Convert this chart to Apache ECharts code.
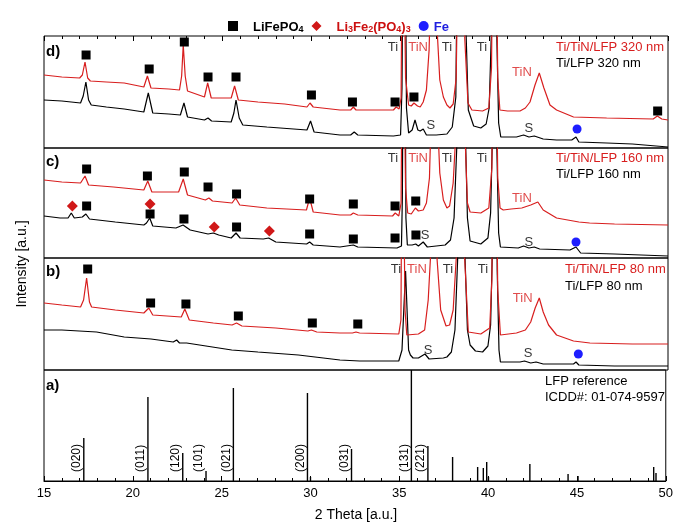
<!DOCTYPE html>
<html>
<head>
<meta charset="utf-8">
<script src="https://cdn.jsdelivr.net/npm/echarts@6/dist/echarts.min.js"></script>
<style>
  html, body { margin: 0; padding: 0; background: #fff; }
  #chart { width: 676px; height: 524px; }
</style>
</head>
<body>
<div id="chart"></div>
<script>
// 2 Theta [deg] vs intensity [a.u.], one array per curve

// d) 320 nm
const dRed = [[15.0,73],[16.0,71],[17.0,70],[17.15,73],[17.3,86],[17.45,70],[17.6,67],[18.5,66],[19.5,65],[20.6,61],[20.8,72],[21.0,60],[22.0,59],[22.6,58],[22.72,72],[22.81,103],[22.92,72],[23.05,57],[24.0,51],[24.18,65],[24.38,50],[25.5,50],[25.69,62],[25.9,48],[27.0,46],[28.5,44],[29.75,41],[29.92,45],[30.1,41],[31.6,38],[32.2,38],[32.35,41],[32.5,38],[34.6,38],[34.75,41],[34.92,39],[35.03,50],[35.12,300],[35.28,70],[35.45,43],[35.6,42],[35.75,45],[35.95,42],[36.1,41],[36.27,46],[36.45,58],[36.6,98],[36.83,260],[37.06,115],[37.2,68],[37.4,51],[37.6,43],[37.77,40],[37.95,44],[38.12,70],[38.38,400],[38.6,110],[38.78,45],[39.0,38],[39.6,37],[39.95,40],[40.1,80],[40.27,400],[40.45,70],[40.57,38],[41.0,37],[41.7,37],[42.0,40],[42.26,46],[42.54,63],[42.78,75],[43.04,60],[43.38,43],[43.75,38],[44.7,31],[46.56,30],[49.17,29],[49.4,32],[49.65,29],[50.0,28]];
const dBlack = [[15.0,48],[16.0,47],[17.05,45],[17.2,52],[17.35,66],[17.5,48],[17.65,43],[18.5,41],[19.5,39],[20.6,36],[20.85,55],[21.1,35],[22.0,34],[22.65,33],[22.85,45],[23.05,31],[24.0,28],[24.2,30],[24.4,27],[25.5,26],[25.65,35],[25.77,48],[25.95,30],[26.15,23],[27.5,21],[29.75,18],[29.95,27],[30.15,16],[31.6,13],[32.2,13],[32.4,16],[32.6,13],[34.6,12],[35.0,13],[35.08,60],[35.2,400],[35.33,40],[35.45,15],[35.65,18],[35.81,28],[35.97,18],[36.1,17],[36.27,19],[36.45,13],[37.0,13],[37.6,14],[37.9,21],[38.1,51],[38.35,500],[38.6,160],[38.8,38],[39.1,22],[39.5,20],[39.8,24],[39.97,40],[40.1,120],[40.25,500],[40.4,110],[40.5,25],[40.62,11],[41.5,11],[41.9,13],[42.2,11],[42.5,12],[43.0,9],[43.75,8],[44.6,8],[44.84,11],[45.0,6],[46.56,5],[48.0,4],[50.0,1]];

// c) 160 nm
const cRed = [[15.0,78],[16.0,76],[17.05,75],[17.3,82],[17.5,73],[18.9,71],[20.6,68],[20.82,77],[21.05,66],[22.55,66],[22.81,79],[23.05,63],[24.05,58],[24.25,60],[24.45,57],[25.55,55],[25.75,60],[25.98,53],[27.5,50],[29.72,48],[29.9,60],[30.1,46],[31.6,43],[32.2,43],[32.35,45],[32.6,43],[34.55,42],[34.7,45],[34.9,42],[35.03,55],[35.12,300],[35.28,70],[35.4,45],[35.6,44],[35.83,50],[36.0,47],[36.27,48],[36.45,55],[36.62,80],[36.8,200],[37.05,150],[37.2,85],[37.4,58],[37.6,50],[37.75,52],[37.95,75],[38.15,140],[38.38,400],[38.6,130],[38.75,55],[38.9,46],[39.5,45],[39.95,50],[40.12,90],[40.25,400],[40.45,80],[40.58,50],[40.76,48],[41.2,49],[41.8,50],[42.3,53],[42.7,56],[43.0,48],[43.75,40],[45.0,36],[45.6,35],[47.0,34],[50.0,33]];
const cBlack = [[15.0,42],[15.9,40],[16.35,40],[16.53,45],[16.7,40],[17.15,41],[17.35,44],[17.55,39],[19.0,36],[20.6,33],[20.75,35],[20.93,40],[21.1,32],[22.4,30],[22.8,33],[23.2,28],[24.2,24],[24.5,25],[24.8,23],[25.5,20],[25.77,25],[26.0,20],[27.3,19],[27.6,20],[28.0,16],[29.73,14],[29.9,16],[30.1,13],[31.6,11],[32.35,13],[32.6,11],[34.8,10],[35.05,12],[35.1,60],[35.2,400],[35.3,40],[35.38,13],[35.65,13],[35.85,14],[36.0,12],[36.27,16],[36.5,11],[37.5,13],[37.8,18],[38.0,40],[38.15,110],[38.35,500],[38.6,150],[38.75,40],[38.9,17],[39.5,14],[39.9,20],[40.05,45],[40.15,120],[40.25,500],[40.4,110],[40.5,25],[40.6,11],[41.6,10],[41.9,12],[42.2,10],[42.5,11],[42.8,9],[44.5,8],[44.84,11],[45.1,5],[47.0,4],[50.0,2]];

// b) 80 nm
const bRed = [[15.0,67],[16.0,65],[17.05,63],[17.22,70],[17.39,92],[17.55,68],[17.67,63],[19.0,60],[20.6,57],[20.88,62],[21.1,55],[22.7,53],[22.9,61],[23.15,50],[24.5,47],[25.55,45],[25.8,47],[26.1,44],[28.0,42],[29.8,39],[30.0,40],[30.3,38],[31.6,37],[32.3,37],[32.5,38],[32.7,37],[34.9,36],[35.02,50],[35.1,300],[35.25,60],[35.35,35],[36.0,36],[36.35,40],[36.55,70],[36.7,120],[36.85,250],[37.05,110],[37.25,60],[37.55,44],[37.75,45],[37.95,60],[38.15,120],[38.38,400],[38.6,110],[38.8,38],[39.5,36],[40.0,42],[40.12,90],[40.25,400],[40.45,80],[40.6,35],[41.5,37],[42.0,40],[42.3,48],[42.55,62],[42.78,72],[43.0,58],[43.3,45],[43.75,35],[44.7,29],[45.62,27],[48.0,26],[50.0,26]];
const bBlack = [[15.0,40],[16.0,40],[17.95,38],[19.5,33],[21.0,31],[22.25,28],[22.44,30],[22.6,27],[23.0,27],[25.53,20],[27.0,18],[29.27,15],[31.6,10],[32.7,9],[34.9,9],[35.08,20],[35.28,99],[35.45,20],[35.55,15],[35.7,12],[36.0,12],[36.37,16],[36.6,11],[37.4,12],[37.6,13],[37.85,18],[38.05,40],[38.2,110],[38.38,500],[38.6,120],[38.75,40],[38.9,25],[39.2,19],[39.6,18],[39.9,24],[40.05,45],[40.15,120],[40.28,500],[40.42,100],[40.52,20],[40.6,8],[41.7,8],[41.95,9],[42.3,7],[42.6,8],[43.0,6],[44.7,6],[44.84,8],[45.0,5],[47.0,4],[50.0,4]];

// phase markers
const dSquares = [[17.36,93],[20.9,79],[22.87,106],[24.2,71],[25.77,71],[30.0,53],[32.3,46],[34.69,46],[35.75,51],[49.42,37]];
const dFe = [[44.9,19]];
const cSquares = [[17.39,89],[20.8,82],[22.87,86],[24.2,71],[25.8,64],[29.9,59],[32.35,54],[34.69,52],[35.85,57],[17.39,52],[20.95,44],[22.85,39],[25.8,31],[29.9,24],[32.35,19],[34.69,20],[35.86,23]];
const cDiamonds = [[16.59,52],[20.95,54],[24.55,31],[27.64,27]];
const cFe = [[44.84,16]];
const bSquares = [[17.45,101],[20.98,67],[22.96,66],[25.9,54],[30.05,47],[32.6,46]];
const bFe = [[44.97,16]];

// peak annotations: [2theta, height, text, colour key]
const dNotes = [[34.57,101,'Ti','k'],[35.98,101,'TiN','r'],[37.6,101,'Ti','k'],[39.57,101,'Ti','k'],[41.81,76,'TiN','r'],[36.7,23,'S','k'],[42.2,20,'S','k']];
const cNotes = [[34.57,100,'Ti','k'],[35.98,100,'TiN','r'],[37.6,100,'Ti','k'],[39.57,100,'Ti','k'],[41.81,60,'TiN','r'],[36.37,23,'S','k'],[42.2,16,'S','k']];
const bNotes = [[34.74,101,'Ti','k'],[35.92,101,'TiN','r'],[37.66,101,'Ti','k'],[39.62,101,'Ti','k'],[41.85,72,'TiN','r'],[36.54,20,'S','k'],[42.15,17,'S','k']];

// a) LFP reference ICDD 01-074-9597
const refPos = [17.24,20.85,22.81,24.12,25.66,29.83,30.0,32.31,35.68,36.61,38.0,39.41,39.73,39.92,40.02,42.35,44.5,45.06,49.32,49.45];
const refInt = [43,84,28,10,93,88,4,32,111,35,24,14,13,19,4,17,7,5,14,8];
const refHkl = ['(020)','(011)','(120)','(101)','(021)','(200)','','(031)','(131)','(221)','','','','','','','','','',''];

const xTicks = [15, 20, 25, 30, 35, 40, 45, 50];

const FONT = "'Liberation Sans', Arial, sans-serif";
const RED = '#d81e1e';
const BLUE = '#1e1eff';
const noteColor = { k: '#000', r: RED };

// layout of the 4 stacked panels (d on top, a at bottom)
const panels = [
  { top: 36, height: 112 },
  { top: 148, height: 110 },
  { top: 258, height: 112 },
  { top: 370, height: 111 }
];

const chart = echarts.init(document.getElementById('chart'));

const grid = panels.map(p => ({
  left: 44, width: 624, top: p.top, height: p.height,
  show: true, borderColor: '#000', borderWidth: 1, backgroundColor: 'transparent'
}));

const xAxis = panels.map((p, i) => ({
  type: 'value', gridIndex: i, min: 15, max: 50, interval: 5,
  axisLine: { show: i === 3, lineStyle: { color: '#000' } },
  axisTick: { show: i === 3, inside: true, length: 5, lineStyle: { color: '#000' } },
  minorTick: { show: i === 3, splitNumber: 5, length: 3, lineStyle: { color: '#000' } },
  splitLine: { show: false },
  axisLabel: {
    show: i === 3, color: '#000', fontSize: 13, fontFamily: FONT, margin: 6,
    customValues: xTicks
  }
}));
// inward ticks along the top edge of panel d
xAxis.push({
  type: 'value', gridIndex: 0, position: 'top', min: 15, max: 50, interval: 5,
  axisLine: { show: false },
  axisTick: { show: true, inside: true, length: 5, lineStyle: { color: '#000' } },
  minorTick: { show: true, splitNumber: 5, length: 3, lineStyle: { color: '#000' } },
  splitLine: { show: false }, axisLabel: { show: false }
});

const yAxis = panels.map((p, i) => ({
  type: 'value', gridIndex: i, min: 0, max: p.height, show: false
}));

const curve = (i, data, color) => ({
  type: 'line', xAxisIndex: i, yAxisIndex: i, data, symbol: 'none',
  lineStyle: { width: 1.2, color }, clip: true, silent: true, z: color === RED ? 3 : 2
});

const markers = (i, name, data, symbol, color, size) => ({
  type: 'scatter', name, xAxisIndex: i, yAxisIndex: i, data, symbol,
  symbolSize: size, itemStyle: { color, opacity: 1 }, silent: true, z: 5
});

const notes = (i, list) => ({
  type: 'scatter', xAxisIndex: i, yAxisIndex: i, symbolSize: 0, silent: true, z: 6,
  data: list.map(n => ({
    value: [n[0], n[1]],
    label: {
      show: true, position: 'inside', formatter: n[2], color: noteColor[n[3]],
      fontSize: 13, fontFamily: FONT
    }
  }))
});

const series = [
  curve(0, dBlack, '#000'), curve(0, dRed, RED),
  markers(0, 'LiFePO4', dSquares, 'rect', '#000', 9),
  markers(0, 'Fe', dFe, 'circle', BLUE, 9),
  notes(0, dNotes),

  curve(1, cBlack, '#000'), curve(1, cRed, RED),
  markers(1, 'LiFePO4', cSquares, 'rect', '#000', 9),
  markers(1, 'Li3Fe2(PO4)3', cDiamonds, 'diamond', '#d01818', 11),
  markers(1, 'Fe', cFe, 'circle', BLUE, 9),
  notes(1, cNotes),

  curve(2, bBlack, '#000'), curve(2, bRed, RED),
  markers(2, 'LiFePO4', bSquares, 'rect', '#000', 9),
  markers(2, 'Fe', bFe, 'circle', BLUE, 9),
  notes(2, bNotes),

  {
    type: 'custom', xAxisIndex: 3, yAxisIndex: 3, silent: true, clip: true,
    data: refPos.map((x, k) => [x, refInt[k]]),
    renderItem: (params, api) => {
      const base = api.coord([api.value(0), 0]);
      const top = api.coord([api.value(0), api.value(1)]);
      const children = [{
        type: 'line',
        shape: { x1: base[0], y1: base[1], x2: top[0], y2: top[1] },
        style: { stroke: '#000', lineWidth: 1.4 }
      }];
      const hkl = refHkl[params.dataIndex];
      if (hkl) {
        children.push({
          type: 'text', x: base[0] - 7, y: base[1] - 9, rotation: Math.PI / 2,
          style: { text: hkl, align: 'left', verticalAlign: 'middle', fill: '#000', fontSize: 12, fontFamily: FONT }
        });
      }
      return { type: 'group', children };
    }
  }
];

const sub = c => ({ color: c, fontWeight: 'bold', fontSize: 9, fontFamily: FONT, lineHeight: 16, verticalAlign: 'bottom', padding: [8, 0, 0, 0] });
const main = (c, pad) => ({ color: c, fontWeight: 'bold', fontSize: 13, fontFamily: FONT, lineHeight: 16, verticalAlign: 'bottom', padding: [0, 0, 0, pad] });

const legendText = {
  'LiFePO4': '{k0|LiFePO}{ks|4}',
  'Li3Fe2(PO4)3': '{r0|Li}{rs|3}{r|Fe}{rs|2}{r|(PO}{rs|4}{r|)}{rs|3}',
  'Fe': '{b|Fe}'
};

const txt = (x, y, text, color, extra) => ({
  type: 'text', x, y, silent: true,
  style: Object.assign({ text, fill: color, fontSize: 13, fontFamily: FONT, verticalAlign: 'middle' }, extra || {})
});

chart.setOption({
  animation: false,
  backgroundColor: '#fff',
  grid, xAxis, yAxis, series,
  legend: {
    data: ['LiFePO4', 'Li3Fe2(PO4)3', 'Fe'],
    left: 223, top: 12, itemWidth: 10, itemHeight: 10, itemGap: 8,
    selectedMode: false,
    itemStyle: { opacity: 1 },
    formatter: name => legendText[name],
    textStyle: {
      rich: {
        k0: main('#000', 10), ks: sub('#000'),
        r0: main('#cc1010', 10), r: main('#cc1010', 0), rs: sub('#cc1010'),
        b: main('#1e1ee0', 0)
      }
    }
  },
  graphic: [
    txt(46, 52, 'd)', '#000', { fontWeight: 'bold', fontSize: 15 }),
    txt(46, 162, 'c)', '#000', { fontWeight: 'bold', fontSize: 15 }),
    txt(46, 272, 'b)', '#000', { fontWeight: 'bold', fontSize: 15 }),
    txt(46, 386, 'a)', '#000', { fontWeight: 'bold', fontSize: 15 }),
    txt(556, 47, 'Ti/TiN/LFP 320 nm', RED),
    txt(556, 63, 'Ti/LFP 320 nm', '#000'),
    txt(556, 158, 'Ti/TiN/LFP 160 nm', RED),
    txt(556, 174, 'Ti/LFP 160 nm', '#000'),
    txt(565, 269, 'Ti/TiN/LFP 80 nm', RED),
    txt(565, 286, 'Ti/LFP 80 nm', '#000'),
    txt(545, 381, 'LFP reference', '#000'),
    txt(545, 397, 'ICDD#: 01-074-9597', '#000'),
    txt(356, 515, '2 Theta [a.u.]', '#000', { align: 'center', fontSize: 14 }),
    Object.assign(txt(22, 264, 'Intensity [a.u.]', '#000', { align: 'center', fontSize: 14 }), { rotation: Math.PI / 2 })
  ]
});
</script>
</body>
</html>
